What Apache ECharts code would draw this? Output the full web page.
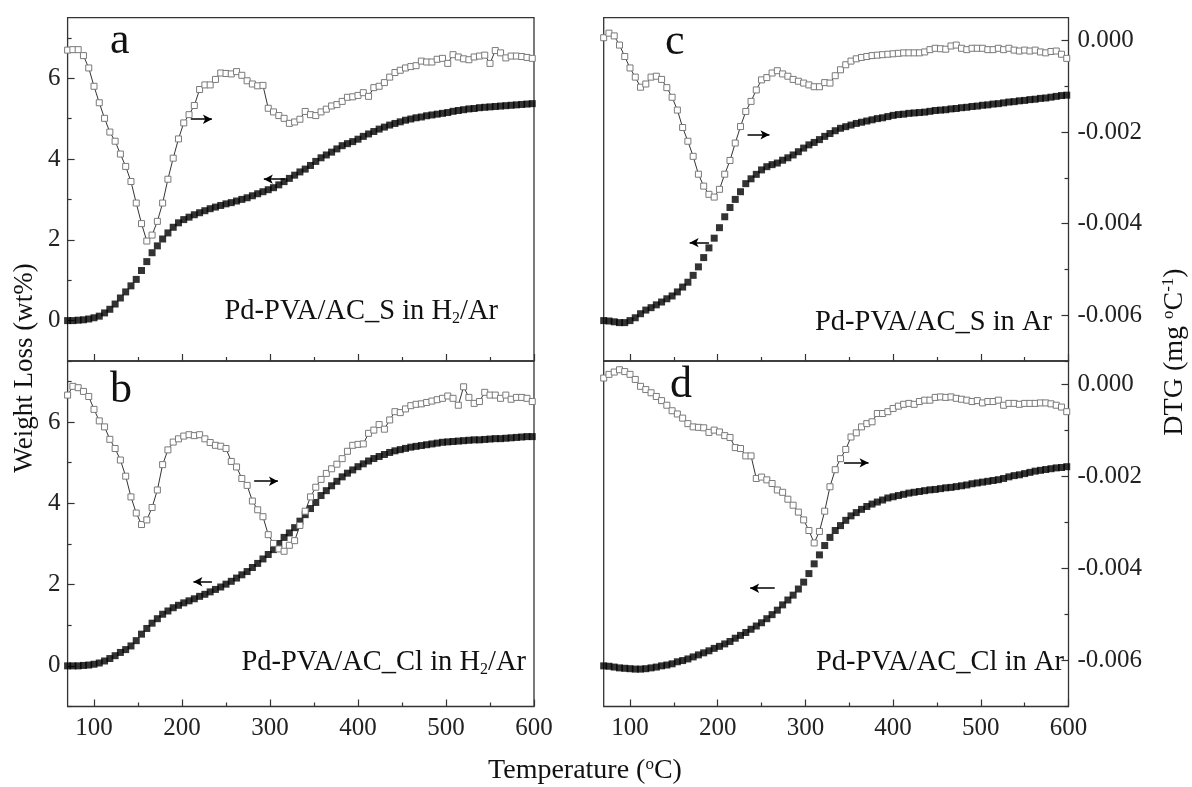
<!DOCTYPE html>
<html>
<head>
<meta charset="utf-8">
<script src="https://cdn.jsdelivr.net/npm/echarts@6.0.0/dist/echarts.min.js"></script>
<style>
html, body { margin: 0; padding: 0; background: #fff; }
#chart { width: 1192px; height: 787px; }
</style>
</head>
<body>
<div id="chart"></div>
<script>
// temperature grid (°C)
var temps = [70, 76, 82, 88, 94, 100, 106, 112, 118, 124,
  130, 136, 142, 148, 154, 160, 166, 172, 178, 184,
  190, 196, 202, 208, 214, 220, 226, 232, 238, 244,
  250, 256, 262, 268, 274, 280, 286, 292, 298, 304,
  310, 316, 322, 328, 334, 340, 346, 352, 358, 364,
  370, 376, 382, 388, 394, 400, 406, 412, 418, 424,
  430, 436, 442, 448, 454, 460, 466, 472, 478, 484,
  490, 496, 502, 508, 514, 520, 526, 532, 538, 544,
  550, 556, 562, 568, 574, 580, 586, 592, 598];

// weight loss (wt%)
var weightA = [0, 0, 0.01, 0.02, 0.04, 0.07, 0.11, 0.19, 0.28, 0.41,
  0.56, 0.71, 0.86, 1.02, 1.24, 1.46, 1.68, 1.85, 2.02, 2.17,
  2.31, 2.42, 2.5, 2.56, 2.62, 2.67, 2.72, 2.77, 2.81, 2.85,
  2.89, 2.92, 2.96, 3.0, 3.04, 3.09, 3.14, 3.19, 3.24, 3.29,
  3.36, 3.44, 3.52, 3.6, 3.68, 3.75, 3.84, 3.94, 4.03, 4.1,
  4.17, 4.25, 4.33, 4.38, 4.43, 4.49, 4.56, 4.62, 4.68, 4.74,
  4.79, 4.84, 4.88, 4.92, 4.96, 4.99, 5.02, 5.04, 5.07, 5.09,
  5.11, 5.13, 5.15, 5.18, 5.2, 5.22, 5.24, 5.25, 5.27, 5.28,
  5.29, 5.3, 5.31, 5.32, 5.33, 5.34, 5.35, 5.36, 5.37];
var weightB = [0, 0, 0, 0.01, 0.02, 0.04, 0.07, 0.12, 0.18, 0.25,
  0.33, 0.4, 0.49, 0.62, 0.78, 0.92, 1.05, 1.16, 1.27, 1.35,
  1.43, 1.49, 1.55, 1.6, 1.65, 1.71, 1.76, 1.82, 1.88, 1.94,
  2.01, 2.08, 2.16, 2.24, 2.32, 2.42, 2.52, 2.63, 2.74, 2.86,
  3.01, 3.16, 3.27, 3.4, 3.56, 3.72, 3.87, 4.02, 4.19, 4.31,
  4.43, 4.54, 4.65, 4.74, 4.82, 4.9, 4.97, 5.04, 5.1, 5.15,
  5.2, 5.25, 5.29, 5.32, 5.35, 5.38, 5.4, 5.42, 5.44, 5.46,
  5.48, 5.5, 5.51, 5.52, 5.53, 5.54, 5.55, 5.56, 5.56, 5.57,
  5.58, 5.59, 5.59, 5.6, 5.61, 5.62, 5.63, 5.64, 5.64];
var weightC = [0, -0.01, -0.03, -0.05, -0.05, 0.0, 0.07, 0.17, 0.26, 0.32,
  0.39, 0.46, 0.54, 0.61, 0.71, 0.83, 0.95, 1.12, 1.33, 1.56,
  1.8, 2.04, 2.3, 2.57, 2.8, 3.0, 3.19, 3.39, 3.51, 3.62,
  3.73, 3.81, 3.86, 3.9, 3.97, 4.03, 4.1, 4.18, 4.27, 4.35,
  4.41, 4.48, 4.56, 4.63, 4.7, 4.76, 4.8, 4.84, 4.88, 4.91,
  4.94, 4.97, 5.0, 5.02, 5.05, 5.08, 5.1, 5.11, 5.13, 5.14,
  5.15, 5.16, 5.18, 5.2, 5.21, 5.22, 5.24, 5.25, 5.27, 5.28,
  5.3, 5.31, 5.33, 5.34, 5.36, 5.37, 5.39, 5.41, 5.42, 5.44,
  5.45, 5.47, 5.48, 5.5, 5.51, 5.53, 5.55, 5.57, 5.58];
var weightD = [0, -0.01, -0.03, -0.05, -0.06, -0.07, -0.08, -0.08, -0.07, -0.05,
  -0.03, 0.0, 0.02, 0.05, 0.1, 0.13, 0.17, 0.22, 0.27, 0.32,
  0.37, 0.43, 0.48, 0.54, 0.6, 0.68, 0.75, 0.82, 0.9, 0.98,
  1.06, 1.16, 1.26, 1.37, 1.5, 1.62, 1.74, 1.89, 2.06, 2.27,
  2.51, 2.73, 2.96, 3.16, 3.33, 3.45, 3.58, 3.69, 3.77, 3.85,
  3.92, 3.98, 4.03, 4.08, 4.13, 4.16, 4.19, 4.22, 4.25, 4.27,
  4.29, 4.31, 4.33, 4.34, 4.36, 4.38, 4.39, 4.41, 4.43, 4.45,
  4.48, 4.5, 4.52, 4.54, 4.56, 4.58, 4.61, 4.65, 4.68, 4.7,
  4.73, 4.76, 4.79, 4.81, 4.83, 4.85, 4.87, 4.88, 4.9];

// DTG, in units of 0.001 mg/°C
var dtgA = [-0.21, -0.2, -0.2, -0.33, -0.6, -1.0, -1.36, -1.7, -2.0, -2.2,
  -2.48, -2.75, -3.08, -3.55, -4.0, -4.38, -4.25, -3.95, -3.55, -3.03,
  -2.57, -2.15, -1.8, -1.62, -1.42, -1.07, -0.97, -0.97, -0.85, -0.71,
  -0.72, -0.73, -0.68, -0.76, -0.88, -0.95, -0.99, -0.98, -1.48, -1.56,
  -1.64, -1.7, -1.81, -1.78, -1.72, -1.55, -1.62, -1.64, -1.56, -1.5,
  -1.43, -1.4, -1.33, -1.24, -1.23, -1.2, -1.14, -1.22, -1.03, -1.0,
  -0.92, -0.8, -0.7, -0.65, -0.6, -0.57, -0.55, -0.45, -0.47, -0.47,
  -0.41, -0.39, -0.5, -0.31, -0.36, -0.4, -0.42, -0.36, -0.34, -0.32,
  -0.5, -0.22, -0.27, -0.38, -0.34, -0.34, -0.35, -0.37, -0.39];
var dtgB = [-0.24, -0.05, -0.08, -0.16, -0.27, -0.55, -0.8, -0.93, -1.2, -1.4,
  -1.65, -2.0, -2.45, -2.8, -3.05, -2.95, -2.68, -2.3, -1.75, -1.43,
  -1.26, -1.19, -1.13, -1.1, -1.12, -1.1, -1.19, -1.27, -1.33, -1.35,
  -1.4, -1.68, -1.8, -2.05, -2.2, -2.54, -2.73, -2.88, -3.27, -3.46,
  -3.58, -3.63, -3.5, -3.4, -3.07, -2.76, -2.45, -2.24, -2.07, -1.94,
  -1.84, -1.74, -1.62, -1.46, -1.33, -1.31, -1.3, -1.07, -1.0, -0.88,
  -0.98, -0.78, -0.6, -0.62, -0.54, -0.47, -0.44, -0.43, -0.4, -0.37,
  -0.34, -0.31, -0.26, -0.31, -0.46, -0.06, -0.29, -0.42, -0.38, -0.18,
  -0.24, -0.24, -0.31, -0.24, -0.33, -0.29, -0.29, -0.31, -0.38];
var dtgC = [0.06, 0.16, 0.1, -0.1, -0.35, -0.6, -0.8, -1.02, -0.95, -0.8,
  -0.78, -0.85, -1.03, -1.24, -1.52, -1.9, -2.2, -2.53, -2.92, -3.18,
  -3.36, -3.42, -3.25, -2.92, -2.62, -2.24, -1.88, -1.55, -1.33, -1.08,
  -0.86, -0.81, -0.71, -0.66, -0.73, -0.78, -0.85, -0.89, -0.93, -0.97,
  -1.01, -1.01, -0.92, -0.93, -0.77, -0.64, -0.53, -0.45, -0.4, -0.37,
  -0.35, -0.33, -0.32, -0.31, -0.3, -0.29, -0.28, -0.27, -0.27, -0.27,
  -0.27, -0.25, -0.2, -0.17, -0.18, -0.19, -0.12, -0.1, -0.17, -0.2,
  -0.17, -0.17, -0.17, -0.2, -0.2, -0.17, -0.2, -0.17, -0.21, -0.23,
  -0.21, -0.23, -0.21, -0.25, -0.27, -0.24, -0.23, -0.3, -0.39];
var dtgD = [0.13, 0.21, 0.26, 0.31, 0.27, 0.21, 0.1, -0.05, -0.12, -0.19,
  -0.27, -0.36, -0.46, -0.58, -0.65, -0.74, -0.86, -0.93, -0.94, -0.95,
  -1.05, -1.0, -1.04, -1.12, -1.16, -1.38, -1.4, -1.56, -1.56, -2.05,
  -2.02, -2.08, -2.16, -2.3, -2.35, -2.5, -2.63, -2.78, -2.95, -3.18,
  -3.45, -3.2, -2.76, -2.23, -1.86, -1.62, -1.42, -1.15, -1.06, -0.93,
  -0.86, -0.82, -0.64, -0.64, -0.6, -0.53, -0.48, -0.44, -0.42, -0.44,
  -0.38, -0.35, -0.35, -0.29, -0.28, -0.29, -0.28, -0.31, -0.33, -0.35,
  -0.38, -0.36, -0.41, -0.38, -0.38, -0.35, -0.46, -0.42, -0.42, -0.44,
  -0.42, -0.42, -0.42, -0.41, -0.41, -0.43, -0.46, -0.5, -0.6];

// ticks
var xMajor = [100, 200, 300, 400, 500, 600];
var xMinor = [150, 250, 350, 450, 550];
var wMajor = [0, 2, 4, 6];
var wMinor = [-1, 1, 3, 5, 7];
var dMajor = [0, -2, -4, -6];
var dMinor = [-1, -3, -5, -7];

// arrows: [x from, x to, y]
var arrowsW = [[317, 293, 3.5], [234, 213, 2.07], [190, 168, 1.93], [265, 237, 1.91]];
var arrowsD = [[210, 234, -1.72], [282, 309, -2.11], [234, 259, -2.06], [344, 372, -1.71]];

var weights = [weightA, weightB, weightC, weightD];
var dtgs = [dtgA, dtgB, dtgC, dtgD];

var SERIF = '"Liberation Serif", "DejaVu Serif", serif';
var INK = '#222';

var grids = [
  {left: 67.6, top: 17.6, width: 466.4, height: 343.4},
  {left: 67.6, top: 361, width: 466.4, height: 345.5},
  {left: 603.7, top: 17.6, width: 464.8, height: 343.4},
  {left: 603.7, top: 361, width: 464.8, height: 345.5}
];
var isLeft = [true, true, false, false];
var isBottom = [false, true, false, true];

function tickAxis(o) {
  return Object.assign({
    type: 'value',
    axisLine: {show: false, onZero: false},
    splitLine: {show: false},
    axisLabel: {show: false},
    axisTick: {show: false}
  }, o);
}

var xAxes = [], yAxes = [], series = [];
grids.forEach(function (g, i) {
  g.show = true;
  g.borderColor = '#333';
  g.borderWidth = 1.3;
  g.containLabel = false;

  xAxes.push(tickAxis({
    gridIndex: i, min: 70, max: 600, position: 'bottom',
    axisTick: {show: true, inside: true, length: 7, customValues: xMajor, lineStyle: {color: '#333', width: 1.2}},
    axisLabel: {show: isBottom[i], customValues: xMajor, margin: 9, color: INK, fontSize: 25, fontFamily: SERIF}
  }));
  xAxes.push(tickAxis({
    gridIndex: i, min: 70, max: 600, position: 'bottom',
    axisTick: {show: true, inside: true, length: 4, customValues: xMinor, lineStyle: {color: '#333', width: 1.2}}
  }));

  yAxes.push(tickAxis({
    gridIndex: i, position: 'left', min: -1, max: 7.5,
    axisTick: {show: isLeft[i], inside: true, length: 7, customValues: wMajor, lineStyle: {color: '#333', width: 1.2}},
    axisLabel: {show: isLeft[i], customValues: wMajor, margin: 7, color: INK, fontSize: 25, fontFamily: SERIF}
  }));
  yAxes.push(tickAxis({
    gridIndex: i, position: 'left', min: -1, max: 7.5,
    axisTick: {show: isLeft[i], inside: true, length: 4, customValues: wMinor, lineStyle: {color: '#333', width: 1.2}}
  }));
  yAxes.push(tickAxis({
    gridIndex: i, position: 'right', min: -7, max: 0.5,
    axisTick: {show: !isLeft[i], inside: true, length: 7, customValues: dMajor, lineStyle: {color: '#333', width: 1.2}},
    axisLabel: {show: !isLeft[i], customValues: dMajor, margin: 9, color: INK, fontSize: 25, fontFamily: SERIF,
      formatter: function (v) { return (v / 1000).toFixed(3); }}
  }));
  yAxes.push(tickAxis({
    gridIndex: i, position: 'right', min: -7, max: 0.5,
    axisTick: {show: !isLeft[i], inside: true, length: 4, customValues: dMinor, lineStyle: {color: '#333', width: 1.2}}
  }));

  var aw = arrowsW[i], ad = arrowsD[i];
  series.push({
    type: 'scatter',
    xAxisIndex: 2 * i, yAxisIndex: 4 * i,
    data: temps.map(function (t, k) { return [t, weights[i][k]]; }),
    symbol: 'rect', symbolSize: 7,
    itemStyle: {color: '#000'},
    markLine: {
      silent: true, symbol: ['none', 'arrow'], symbolSize: [7, 9],
      label: {show: false},
      lineStyle: {color: '#000', width: 1.5, type: 'solid'},
      data: [[{coord: [aw[0], aw[2]]}, {coord: [aw[1], aw[2]]}]]
    }
  });
  series.push({
    type: 'line',
    xAxisIndex: 2 * i, yAxisIndex: 4 * i + 2,
    data: temps.map(function (t, k) { return [t, dtgs[i][k]]; }),
    symbol: 'rect', symbolSize: 6, showAllSymbol: true,
    itemStyle: {color: '#fff', borderColor: '#7a7a7a', borderWidth: 1},
    lineStyle: {color: '#333', width: 1},
    markLine: {
      silent: true, symbol: ['none', 'arrow'], symbolSize: [7, 9],
      label: {show: false},
      lineStyle: {color: '#000', width: 1.5, type: 'solid'},
      data: [[{coord: [ad[0], ad[2]]}, {coord: [ad[1], ad[2]]}]]
    }
  });
});

function label(text, x, y, opts) {
  return {
    type: 'text', x: x, y: y, rotation: (opts && opts.rotation) || 0, z: 100,
    style: Object.assign({
      text: text, fill: '#111', fontFamily: SERIF, fontSize: 28,
      align: 'left', verticalAlign: 'middle',
      rich: {
        sub: {fontSize: 16, lineHeight: 14, verticalAlign: 'bottom', fontFamily: SERIF, fill: '#111'},
        sup: {fontSize: 17, lineHeight: 16, verticalAlign: 'top', fontFamily: SERIF, fill: '#111'}
      }
    }, opts && opts.style)
  };
}

var graphics = [
  label('a', 110, 41, {style: {fontSize: 44}}),
  label('b', 110, 390, {style: {fontSize: 44}}),
  label('c', 665, 42, {style: {fontSize: 44}}),
  label('d', 670, 385, {style: {fontSize: 44}}),
  label('Pd-PVA/AC_S in H{sub|2}/Ar', 498, 312, {style: {align: 'right', lineHeight: 30, fontSize: 28.5}}),
  label('Pd-PVA/AC_Cl in H{sub|2}/Ar', 526, 663, {style: {align: 'right', lineHeight: 30, fontSize: 28.5}}),
  label('Pd-PVA/AC_S in Ar', 1052, 323, {style: {align: 'right', lineHeight: 30, fontSize: 28.5}}),
  label('Pd-PVA/AC_Cl in Ar', 1064, 663, {style: {align: 'right', lineHeight: 30, fontSize: 28.5}}),
  label('Weight Loss (wt%)', 25, 368, {rotation: Math.PI / 2, style: {align: 'center', fontSize: 27}}),
  label('DTG (mg {sup|o}C{sup|-1})', 1175, 352, {rotation: Math.PI / 2, style: {align: 'center', fontSize: 28, lineHeight: 30}}),
  label('Temperature ({sup|o}C)', 585, 771, {style: {align: 'center', fontSize: 28, lineHeight: 30}})
];

var chart = echarts.init(document.getElementById('chart'));
chart.setOption({
  animation: false,
  backgroundColor: '#fff',
  grid: grids,
  xAxis: xAxes,
  yAxis: yAxes,
  series: series,
  graphic: graphics
});
window.addEventListener('resize', function () { chart.resize(); });
</script>
</body>
</html>
